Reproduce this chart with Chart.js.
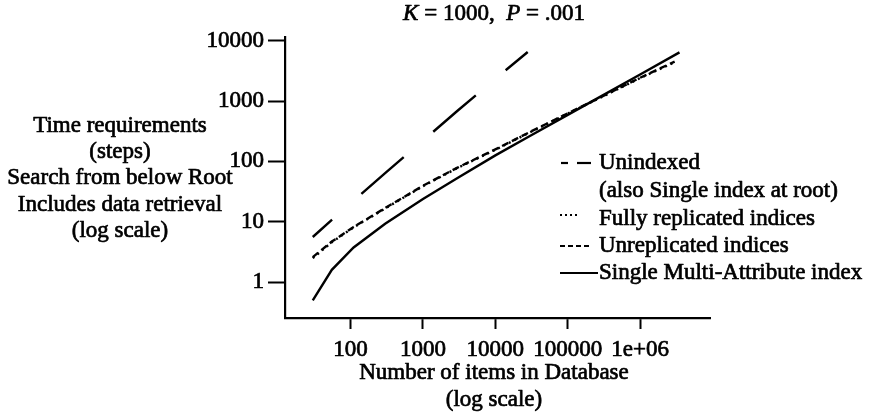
<!DOCTYPE html>
<html>
<head>
<meta charset="utf-8">
<script src="https://cdn.jsdelivr.net/npm/chart.js@4.4.1/dist/chart.umd.min.js"></script>
<style>
  html, body { margin: 0; padding: 0; background: #fff; }
</style>
</head>
<body>
<canvas id="myChart" width="876" height="414"></canvas>
<script>
// tick values and their printed labels
const yTickValues = [1, 10, 100, 1000, 10000];
const yTickLabels = ['1', '10', '100', '1000', '10000'];
const xTickValues = [100, 1000, 10000, 100000, 1000000];
const xTickLabels = ['100', '1000', '10000', '100000', '1e+06'];

// number of items in database (x) for each curve
const itemCounts = [30, 55, 110, 300, 1000, 3000, 10000, 30000, 100000, 300000, 1000000, 3500000];
const replicatedCounts = [30, 55, 110, 300, 1000, 3000, 10000, 30000, 100000, 300000, 1000000, 3000000];
const unindexedCounts = [30, 55, 110, 300, 1000, 3000, 10000, 28000];

// time requirements (steps)
const multiAttribute = [0.5, 1.6, 3.75, 9.3, 23.9, 53, 126, 263, 589, 1230, 2750, 6400];
const fullyReplicated = [2.5, 4.6, 8.1, 16.6, 39, 78, 156, 303, 620, 1180, 2400, 4400];
const unreplicated = [2.6, 4.7, 8.2, 16.9, 39.5, 79, 158, 307, 626, 1190, 2430, 4500];
const unindexed = [5.6, 10.8, 22.4, 64, 221, 690, 2340, 6480];

const titleParts = [['K', 'italic'], [' = 1000,  ', 'normal'], ['P', 'italic'], [' = .001', 'normal']];
const yTitleLines = ['Time requirements', '(steps)', 'Search from below Root', 'Includes data retrieval', '(log scale)'];
const xTitleLines = ['Number of items in Database', '(log scale)'];
const legendLabels = ['Unindexed', '(also Single index at root)', 'Fully replicated indices', 'Unreplicated indices', 'Single Multi-Attribute index'];

const serif = '"Liberation Serif", "Times New Roman", serif';
const inkWidth = 0.7;   // the scanned print is heavy, thicken glyphs a bit

function toPoints(xs, ys) {
    return xs.map((x, i) => ({ x: x, y: ys[i] }));
}

function inkText(ctx, t, x, y) {
    ctx.fillText(t, x, y);
    ctx.strokeText(t, x, y);
}

// title, axis captions and legend are drawn by hand, like the paper figure
const paperText = {
    id: 'paperText',
    afterDraw(chart) {
        const ctx = chart.ctx;
        ctx.save();
        ctx.fillStyle = '#000';
        ctx.strokeStyle = '#000';
        ctx.lineWidth = inkWidth;
        ctx.lineJoin = 'round';
        ctx.textBaseline = 'middle';

        // title with italic K and P
        let total = 0;
        titleParts.forEach(p => {
            ctx.font = p[1] + ' 23px ' + serif;
            total += ctx.measureText(p[0]).width;
        });
        let tx = 494 - total / 2;
        ctx.textAlign = 'left';
        titleParts.forEach(p => {
            ctx.font = p[1] + ' 23px ' + serif;
            inkText(ctx, p[0], tx, 14);
            tx += ctx.measureText(p[0]).width;
        });

        ctx.font = '23px ' + serif;
        ctx.textAlign = 'center';
        yTitleLines.forEach((t, i) => inkText(ctx, t, 120, 126 + i * 26.2));
        xTitleLines.forEach((t, i) => inkText(ctx, t, 494, 373 + i * 27));

        // legend
        const rows = [163, 191, 219, 246, 273];
        ctx.textAlign = 'left';
        legendLabels.forEach((t, i) => inkText(ctx, t, 599, rows[i]));

        ctx.lineWidth = 2.2;
        const seg = (x1, x2, y, dash) => {
            ctx.setLineDash(dash);
            ctx.beginPath();
            ctx.moveTo(x1, y);
            ctx.lineTo(x2, y);
            ctx.stroke();
        };
        seg(561, 568, rows[0], []);
        seg(577, 591, rows[0], []);
        seg(560, 577, rows[2] - 4, [2, 3]);
        seg(560, 591, rows[3], [5, 3]);
        seg(560, 598, rows[4], []);
        ctx.restore();
    }
};

Chart.defaults.font.family = serif;
Chart.defaults.font.size = 23;
Chart.defaults.color = '#000';

const myCanvas = document.getElementById('myChart').getContext('2d');

const myChart = new Chart(myCanvas, {
    type: 'line',
    data: {
        datasets: [{
            label: 'Unindexed',
            data: toPoints(unindexedCounts, unindexed),
            borderDash: [56, 39],
            borderDashOffset: 30,
        }, {
            label: 'Fully replicated indices',
            data: toPoints(replicatedCounts, fullyReplicated),
            borderDash: [2, 4],
        }, {
            label: 'Unreplicated indices',
            data: toPoints(replicatedCounts, unreplicated),
            borderDash: [7, 4],
        }, {
            label: 'Single Multi-Attribute index',
            data: toPoints(itemCounts, multiAttribute),
        }],
    },
    options: {
        responsive: false,
        animation: false,
        devicePixelRatio: 1,
        layout: {
            padding: { top: 37, right: 166, left: 0, bottom: 0 }
        },
        elements: {
            point: { radius: 0 },
            line: { tension: 0, borderWidth: 2.4, borderColor: '#000', fill: false }
        },
        plugins: {
            legend: { display: false },
            tooltip: { enabled: false },
            title: { display: false }
        },
        scales: {
            x: {
                type: 'logarithmic',
                min: 12.4,
                max: 9.24e6,
                afterFit(scale) { scale.height = 96; },
                afterBuildTicks(scale) { scale.ticks = xTickValues.map(v => ({ value: v })); },
                grid: { drawOnChartArea: false, drawTicks: true, tickLength: 11, tickColor: '#000', tickWidth: 2 },
                border: { display: true, color: '#000', width: 2.2 },
                ticks: {
                    autoSkip: false,
                    maxRotation: 0,
                    padding: 7,
                    textStrokeColor: '#000',
                    textStrokeWidth: inkWidth,
                    callback: (v, i) => xTickLabels[i]
                }
            },
            y: {
                type: 'logarithmic',
                min: 0.255,
                max: 11500,
                afterFit(scale) { scale.width = 285; },
                afterBuildTicks(scale) { scale.ticks = yTickValues.map(v => ({ value: v })); },
                grid: { drawOnChartArea: false, drawTicks: true, tickLength: 17, tickColor: '#000', tickWidth: 2 },
                border: { display: true, color: '#000', width: 2.2 },
                ticks: {
                    autoSkip: false,
                    padding: 4,
                    textStrokeColor: '#000',
                    textStrokeWidth: inkWidth,
                    callback: (v, i) => yTickLabels[i]
                }
            }
        }
    },
    plugins: [paperText]
});
</script>
</body>
</html>
